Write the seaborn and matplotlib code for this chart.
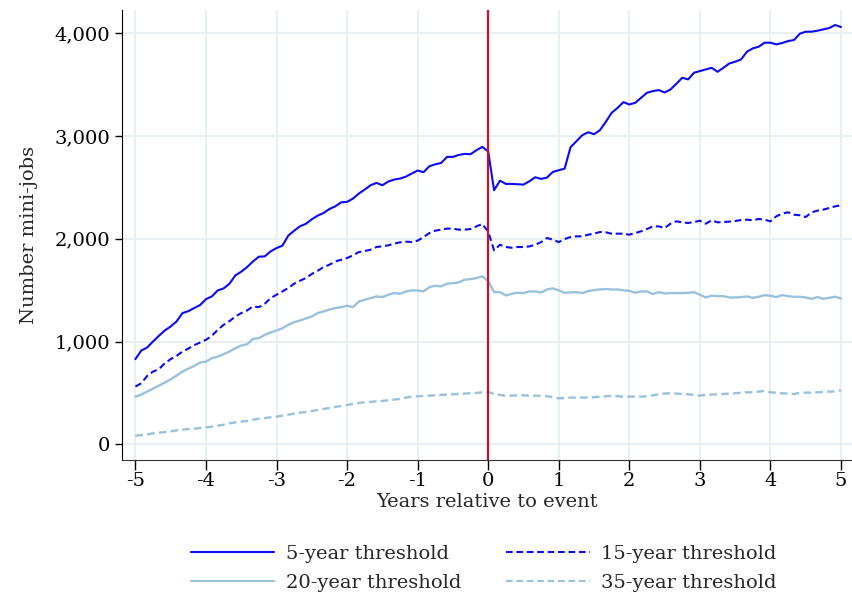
import numpy as np
import pandas as pd
import seaborn as sns
import matplotlib.pyplot as plt
from matplotlib.ticker import FuncFormatter

# months relative to event, -60 .. 60
months = list(range(-60, 61))

five_year = [829, 913, 942, 1001, 1056, 1108, 1147, 1196, 1277, 1296,
             1326, 1355, 1413, 1439, 1498, 1517, 1563, 1644, 1680, 1725,
             1780, 1826, 1829, 1878, 1910, 1933, 2031, 2079, 2122, 2146,
             2190, 2225, 2251, 2290, 2316, 2355, 2359, 2391, 2440, 2479,
             2521, 2544, 2521, 2557, 2576, 2586, 2605, 2635, 2664, 2648,
             2706, 2725, 2738, 2797, 2797, 2816, 2826, 2823, 2862, 2894,
             2850, 2472, 2566, 2534, 2534, 2531, 2527, 2560, 2599, 2583,
             2596, 2651, 2667, 2683, 2891, 2949, 3008, 3037, 3018, 3057,
             3138, 3226, 3274, 3330, 3307, 3323, 3372, 3421, 3437, 3447,
             3424, 3453, 3508, 3567, 3551, 3616, 3632, 3648, 3664, 3625,
             3664, 3706, 3723, 3745, 3820, 3853, 3869, 3908, 3908, 3892,
             3905, 3924, 3934, 3996, 4015, 4015, 4025, 4038, 4051, 4080,
             4061]

fifteen_year = [562, 594, 666, 708, 731, 790, 829, 861, 903, 932,
                965, 991, 1017, 1056, 1114, 1163, 1199, 1244, 1277, 1303,
                1342, 1335, 1368, 1423, 1456, 1488, 1521, 1563, 1592, 1618,
                1658, 1689, 1725, 1748, 1780, 1796, 1813, 1839, 1871, 1881,
                1894, 1920, 1927, 1936, 1953, 1966, 1972, 1969, 1982, 2017,
                2056, 2079, 2089, 2099, 2099, 2089, 2089, 2095, 2121, 2144,
                2070, 1887, 1942, 1920, 1913, 1920, 1920, 1926, 1942, 1968,
                2008, 1991, 1968, 1998, 2017, 2024, 2024, 2040, 2050, 2066,
                2063, 2050, 2050, 2050, 2040, 2056, 2073, 2095, 2121, 2121,
                2105, 2147, 2170, 2160, 2154, 2163, 2176, 2147, 2180, 2160,
                2163, 2167, 2173, 2183, 2186, 2180, 2193, 2186, 2170, 2219,
                2245, 2258, 2235, 2229, 2212, 2258, 2274, 2284, 2300, 2316,
                2326]

twenty_year = [464, 484, 513, 542, 571, 601, 633, 669, 708, 737,
               763, 796, 805, 838, 854, 877, 903, 935, 961, 974,
               1026, 1033, 1065, 1088, 1108, 1130, 1163, 1189, 1205, 1225,
               1244, 1277, 1293, 1312, 1325, 1335, 1348, 1335, 1390, 1407,
               1423, 1439, 1433, 1455, 1472, 1465, 1488, 1498, 1498, 1488,
               1530, 1543, 1537, 1563, 1569, 1576, 1602, 1608, 1618, 1634,
               1590, 1481, 1481, 1449, 1465, 1475, 1472, 1488, 1488, 1478,
               1507, 1517, 1498, 1475, 1478, 1481, 1472, 1491, 1501, 1507,
               1511, 1507, 1507, 1498, 1494, 1475, 1488, 1488, 1462, 1481,
               1468, 1472, 1472, 1472, 1475, 1481, 1455, 1429, 1446, 1442,
               1442, 1429, 1429, 1433, 1439, 1426, 1436, 1452, 1446, 1433,
               1452, 1442, 1436, 1436, 1429, 1416, 1433, 1416, 1426, 1436,
               1420]

thirtyfive_year = [84, 91, 97, 107, 113, 120, 126, 136, 143, 149,
                   152, 159, 165, 172, 182, 191, 204, 214, 221, 227,
                   240, 250, 256, 263, 269, 279, 289, 299, 308, 315,
                   325, 334, 344, 354, 364, 373, 383, 393, 403, 409,
                   412, 419, 422, 429, 435, 442, 455, 464, 468, 471,
                   474, 477, 481, 484, 487, 490, 494, 497, 500, 507,
                   510, 490, 481, 471, 474, 477, 477, 474, 474, 471,
                   468, 461, 448, 451, 455, 455, 455, 455, 458, 464,
                   468, 471, 468, 464, 464, 464, 464, 468, 477, 487,
                   494, 497, 494, 490, 487, 481, 474, 481, 484, 487,
                   490, 494, 497, 503, 507, 507, 513, 520, 507, 500,
                   497, 494, 490, 500, 503, 503, 507, 510, 513, 516,
                   526]

series_names = ["5-year threshold", "15-year threshold",
                "20-year threshold", "35-year threshold"]
x_ticks = [-5, -4, -3, -2, -1, 0, 1, 2, 3, 4, 5]
y_ticks = [0, 1000, 2000, 3000, 4000]

df = pd.concat([
    pd.DataFrame({"years": np.array(months) / 12, "count": vals, "series": name})
    for name, vals in zip(series_names, [five_year, fifteen_year, twenty_year, thirtyfive_year])
])

sns.set_style("white")
plt.rcParams["font.family"] = ["DejaVu Serif"]

fig = plt.figure(figsize=(8.53, 6.01), dpi=100)
ax = fig.add_axes([0.143, 0.235, 0.857, 0.749])

blue = "#0A0AF5"
light = "#98C1DC"
palette = {series_names[0]: blue, series_names[1]: blue,
           series_names[2]: light, series_names[3]: light}
dashes = {series_names[0]: "", series_names[1]: (3.2, 1.8),
          series_names[2]: "", series_names[3]: (3.2, 1.8)}

sns.lineplot(data=df, x="years", y="count", hue="series", style="series",
             palette=palette, dashes=dashes, linewidth=1.5, ax=ax)
for line in ax.get_lines()[2:4]:
    line.set_linewidth(1.7)

ax.axvline(0, color="#C8102E", lw=1.6, zorder=5)

ax.set_xlim(-5.19, 5.17)
ax.set_ylim(-150, 4230)
ax.set_xticks(x_ticks)
ax.set_yticks(y_ticks)
ax.xaxis.set_major_formatter(FuncFormatter(lambda v, p: f"{int(v)}"))
ax.yaxis.set_major_formatter(FuncFormatter(lambda v, p: f"{int(v):,}"))
ax.grid(True, color="#E9F0F3", lw=1.4)
ax.set_axisbelow(True)

for s in ["top", "right"]:
    ax.spines[s].set_visible(False)
ax.spines["left"].set_color("black")
ax.spines["bottom"].set_color("#333333")
ax.tick_params(axis="both", direction="out", length=5, width=1, labelsize=14,
               bottom=True, left=True, colors="black")
ax.tick_params(axis="x", length=7, pad=2)

ax.set_xlabel("Years relative to event", fontsize=14, labelpad=2)
ax.set_ylabel("Number mini-jobs", fontsize=14, labelpad=12)

# legend fills by column, so reorder to get 5/15 on the first row
handles, labels = ax.get_legend_handles_labels()
order = [0, 2, 1, 3]
ax.legend([handles[i] for i in order], [labels[i] for i in order], ncol=2,
          frameon=False, fontsize=14, loc="center",
          bbox_to_anchor=(0.567, 0.054), bbox_transform=fig.transFigure,
          handlelength=4.3, handletextpad=0.6, columnspacing=2.3, labelspacing=0.55)

fig.savefig("out.png", dpi=100)
